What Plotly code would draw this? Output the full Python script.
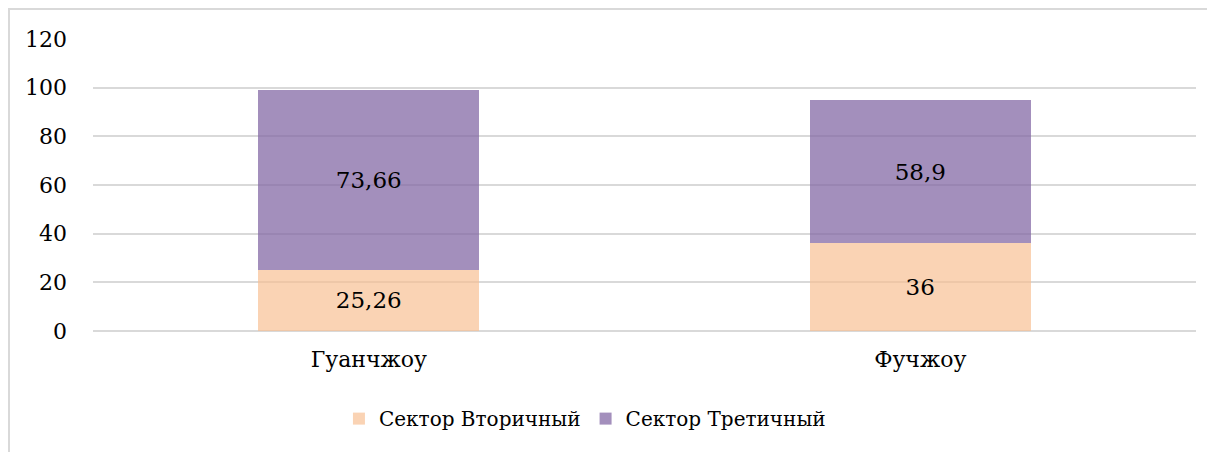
import plotly.graph_objects as go

cities = ["Гуанчжоу", "Фучжоу"]
secondary = [25.26, 36]
tertiary = [73.66, 58.9]
secondary_labels = ["25,26", "36"]
tertiary_labels = ["73,66", "58,9"]
y_ticks = [0, 20, 40, 60, 80, 100, 120]

FONT = "DejaVu Serif"

L, R, T, B = 85, 27, 31, 129
W, H = 1215, 452
PW, PH = W - L - R, H - T - B

fig = go.Figure()
fig.add_trace(go.Bar(
    x=cities, y=secondary, name="Сектор Вторичный",
    text=secondary_labels, textposition="inside", insidetextanchor="middle",
    textfont=dict(family=FONT, size=23, color="black"),
    marker=dict(color="rgba(248,190,145,0.68)", line=dict(width=0)),
    width=0.4,
))
fig.add_trace(go.Bar(
    x=cities, y=tertiary, name="Сектор Третичный",
    text=tertiary_labels, textposition="inside", insidetextanchor="middle",
    textfont=dict(family=FONT, size=23, color="black"),
    marker=dict(color="rgba(128,100,162,0.72)", line=dict(width=0)),
    width=0.4,
))

fig.update_layout(
    barmode="stack",
    width=W, height=H,
    margin=dict(l=L, r=R, t=T, b=B),
    paper_bgcolor="white", plot_bgcolor="white",
    font=dict(family=FONT, size=22, color="black"),
    uniformtext=dict(mode="show", minsize=18),
    showlegend=True,
    legend=dict(orientation="h", x=0.446, xanchor="center", y=-0.3, yanchor="middle",
                font=dict(family=FONT, size=20, color="black"),
                itemwidth=30, traceorder="normal"),
    xaxis=dict(showgrid=False, showline=False, ticks="", ticklabelstandoff=13,
               tickfont=dict(family=FONT, size=22, color="black")),
    yaxis=dict(range=[0, 120], tickvals=y_ticks, showgrid=True,
               gridcolor="#D9D9D9", gridwidth=1.5, zeroline=True,
               zerolinecolor="#D9D9D9", zerolinewidth=1.5,
               ticks="", ticklabelstandoff=25,
               tickfont=dict(family=FONT, size=22, color="black")),
    shapes=[dict(type="rect", xref="paper", yref="paper",
                 x0=-(L - 1) / PW, x1=1.2, y0=-1.0, y1=1 + (T - 1) / PH,
                 line=dict(color="#D9D9D9", width=2), fillcolor="rgba(0,0,0,0)",
                 layer="below")],
)

fig.write_html("out.html")
